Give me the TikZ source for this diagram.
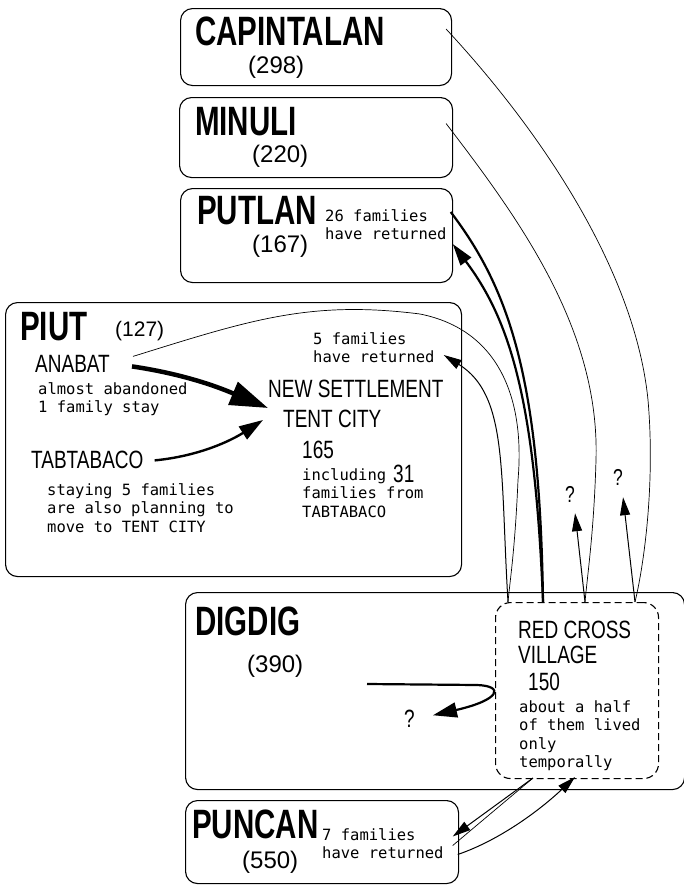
\documentclass[tikz,border=0pt]{standalone}
\usepackage{fontspec}
\usetikzlibrary{arrows.meta, calc}
\newfontfamily\namefont[FakeStretch=0.72]{Liberation Sans}
\newfontfamily\midfont[FakeStretch=0.76]{Liberation Sans}
\newfontfamily\countfont{Liberation Sans}
\newfontfamily\notefont{DejaVu Sans Mono}

\begin{document}
\begin{tikzpicture}[x=1pt, y=-1pt,
  townbox/.style={draw, line width=1.1pt, rounded corners=12pt, anchor=north west, inner sep=0pt},
  campbox/.style={draw, line width=1.1pt, dash pattern=on 7pt off 4pt, rounded corners=15pt, anchor=north west, inner sep=0pt},
  bigname/.style={anchor=base west, inner sep=0pt, font=\namefont\bfseries\fontsize{41}{41}\selectfont},
  midname/.style={anchor=base west, inner sep=0pt, font=\midfont\fontsize{25}{25}\selectfont},
  count/.style={anchor=base west, inner sep=0pt, font=\countfont\fontsize{24}{24}\selectfont},
  note/.style={anchor=north west, inner sep=0pt, align=left, font=\notefont\fontsize{15.5}{18.5}\selectfont},
  flow/.style={line width=0.7pt},
  back/.style={line width=1pt, -{Triangle[length=18pt, width=10pt]}}]

\useasboundingbox (0,0) rectangle (684,886);

% ---------- the villages
\node[townbox, minimum width=271pt, minimum height=77pt] (capintalan) at (180,8) {};
\node[bigname] (capname) at (195,45) {CAPINTALAN};
\node[count] (capcount) at (248,73) {(298)};

\node[townbox, minimum width=273pt, minimum height=80pt] (minuli) at (179,97) {};
\node[bigname] (minname) at (195,135) {MINULI};
\node[count] (mincount) at (252,162) {(220)};

\node[townbox, minimum width=272pt, minimum height=94pt] (putlan) at (180,188) {};
\node[bigname] (putname) at (197,224) {PUTLAN};
\node[count] (putcount) at (252,252) {(167)};
\node[note] (putnote) at (325,209) {26 families\\have returned};

% ---------- PIUT with the tent city
\node[townbox, minimum width=456pt, minimum height=274pt] (piut) at (5,302) {};
\node[bigname] (piutname) at (20,340) {PIUT};
\node[count, font=\countfont\fontsize{21}{21}\selectfont] (piutcount) at (115,336) {(127)};
\node[midname] (anabat) at (35,372) {ANABAT};
\node[note] (anabatnote) at (38,382) {almost abandoned\\1 family stay};
\node[midname] (tabtabaco) at (31,468) {TABTABACO};
\node[note] (tabnote) at (47,483) {staying 5 families\\are also planning to\\move to TENT CITY};
\node[note] (tentnote) at (313,332) {5 families\\have returned};
\node[midname] (settle) at (268,397) {NEW SETTLEMENT};
\node[midname] (tent) at (283,427) {TENT CITY};
\node[midname] (tentcount) at (302,458) {165};
\node[note] (tentfrom) at (302,468) {including\\families from\\TABTABACO};
\node[midname] (thirtyone) at (393,482) {31};

% ---------- DIGDIG and the Red Cross village
\node[townbox, minimum width=499pt, minimum height=197pt] (digdig) at (185,592) {};
\node[bigname] (digname) at (195,635) {DIGDIG};
\node[count] (digcount) at (247,672) {(390)};
\node[midname] (digq) at (404,727) {?};

\node[campbox, fill=white, minimum width=163pt, minimum height=176pt] (redcross) at (495,602) {};
\node[midname] (rcname) at (518,638) {RED CROSS};
\node[midname] (rcvillage) at (518,663) {VILLAGE};
\node[midname] (rccount) at (528,690) {150};
\node[note] (rcnote) at (519,700) {about a half\\of them lived\\only\\temporally};

% ---------- PUNCAN
\node[townbox, minimum width=273pt, minimum height=83pt] (puncan) at (185,800) {};
\node[bigname] (punname) at (192,838) {PUNCAN};
\node[count] (puncount) at (242,868) {(550)};
\node[note] (punnote) at (322,828) {7 families\\have returned};

\node[midname, font=\midfont\fontsize{23}{23}\selectfont] (minq) at (565,502) {?};
\node[midname, font=\midfont\fontsize{23}{23}\selectfont] (capq) at (613,485) {?};

% turning points on the top and bottom of the Red Cross village
\coordinate (rcpiut) at (508,602);
\coordinate (rcput) at (543,602);
\coordinate (rcmin) at (585,602);
\coordinate (rccap) at (635,602);
\coordinate (rcpun) at (533,778);
\coordinate (rcin) at (575,777);

% ---------- moves inside PIUT
\draw[line width=4.5pt, -{Triangle[length=38pt, width=24pt]}]
  ($(anabat.east)+(22,3)$) .. controls (190,375) and (225,390) .. (settle.west |- 0,408);
\draw[line width=2.4pt, -{Triangle[length=24pt, width=15pt]}]
  ($(tabtabaco.east)+(11,1)$) .. controls (200,456) and (232,440) .. (263,420);

% ---------- from the Red Cross village to the villages and back
\draw[flow] ($(capintalan.east)+(-6,-18)$) .. controls (540,130) and (635,270) .. (648,400)
  .. controls (655,480) and (645,560) .. (rccap);
\draw[back] (rccap) -- ($(capq.south)+(5,12)$);
\draw[flow] ($(minuli.east)+(-7,-14)$) .. controls (520,220) and (600,330) .. (596,460)
  .. controls (594,530) and (588,570) .. (rcmin);
\draw[back] (rcmin) -- ($(minq.south)+(5,11)$);

\draw[line width=2.2pt] ($(putnote.north east)+(4,3)$) .. controls (510,290) and (540,380) .. (rcput);
\draw[line width=2.2pt, -{Triangle[length=22pt, width=13pt]}]
  (rcput) .. controls (535,400) and (510,320) .. ($(putnote.south east)+(6,4)$);

\draw[flow] ($(anabat.east)+(23,-7)$) .. controls (250,320) and (310,300) .. (420,314)
  .. controls (500,330) and (525,400) .. (518,480) .. controls (515,550) and (510,580) .. (rcpiut);
\draw[back] (rcpiut) .. controls (500,470) and (508,395) .. ($(tentnote.south east)+(9,-8)$);

\draw[line width=2.2pt, -{Triangle[length=24pt, width=15pt]}]
  (367,684) -- (477,685) .. controls (505,686) and (500,700) .. ($(digq.east)+(18,-3)$);

\draw[flow] ($(punnote.east)+(9,2)$) -- (rcpun);
\draw[back] (rcpun) -- ($(punnote.east)+(9,-7)$);
\draw[back] ($(punnote.east)+(14,11)$) .. controls (500,840) and (540,810) .. (rcin);
\end{tikzpicture}
\end{document}
